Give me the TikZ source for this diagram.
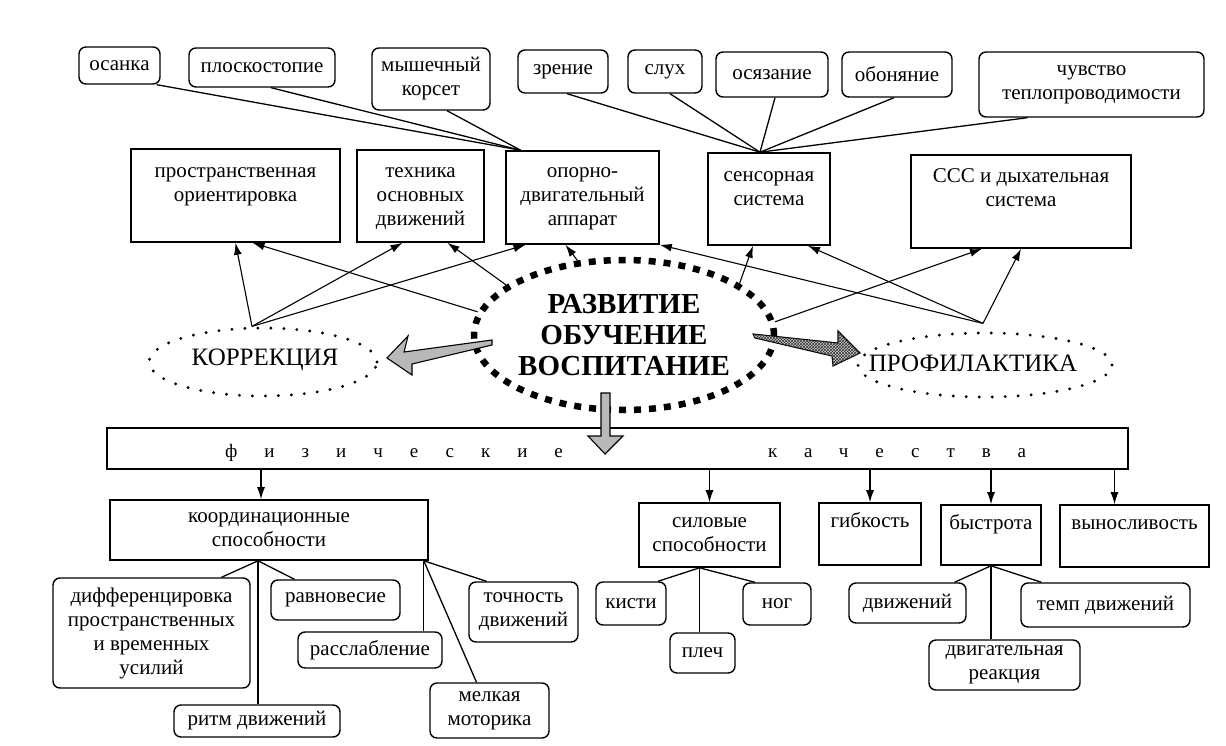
\documentclass[tikz,border=0pt]{standalone}
\usepackage{fontspec}
\setmainfont{Liberation Serif}
\newfontfamily\spacedfont[LetterSpace=142]{Liberation Serif}
\usetikzlibrary{positioning,shapes.geometric,arrows.meta,patterns}
\newcommand\boxfont{\fontsize{21}{24}\selectfont}

\begin{document}
\begin{tikzpicture}[x=1pt,y=-1pt,
  box/.style={draw,line width=1.6pt,inner sep=0pt},
  leaf/.style={draw,rounded corners=7pt,line width=1.4pt,inner sep=0pt,align=center,font=\boxfont},
  txt/.style={inner sep=0pt,align=center,font=\boxfont},
  link/.style={line width=1.3pt},
  arr/.style={line width=1.1pt,-{Latex[length=12pt,width=8pt]}},
  dotring/.style={ellipse,draw,line width=3.2pt,line cap=round,dash pattern=on 0pt off 13pt,inner sep=0pt},
  bigarrow/.style={draw,line width=1.1pt,fill=gray!55,line join=miter}]

\useasboundingbox (0,0) rectangle (1226,746);

\node[leaf,minimum width=81pt,minimum height=37pt] (osanka) at (119.5,65.5) {осанка};
\node[leaf,minimum width=146pt,minimum height=39pt] (ploskost) at (262,67.5) {плоскостопие};
\node[leaf,minimum width=118pt,minimum height=62pt] (korset) at (431,79) {мышечный\\корсет};
\node[leaf,minimum width=90pt,minimum height=43pt] (zrenie) at (563,71.5) {зрение};
\node[leaf,minimum width=74pt,minimum height=43pt] (sluh) at (665,71.5) {слух};
\node[leaf,minimum width=112pt,minimum height=45pt] (osyaz) at (772,74.5) {осязание};
\node[leaf,minimum width=110pt,minimum height=45pt] (obon) at (897,74.5) {обоняние};
\node[leaf,minimum width=225pt,minimum height=65pt] (chuvstvo) at (1091.5,84.5) {чувство\\теплопроводимости};

\node[box,minimum width=209pt,minimum height=93pt] (prostr) at (235.5,195.5) {};
\node[box,minimum width=127pt,minimum height=92pt] (tehnika) at (420.5,196) {};
\node[box,minimum width=153pt,minimum height=93pt] (oporno) at (582.5,197.5) {};
\node[box,minimum width=122pt,minimum height=92pt] (sensor) at (769,199) {};
\node[box,minimum width=220pt,minimum height=93pt] (sss) at (1021,201.5) {};
\node[txt,below=19pt of prostr.north] (prostr-t) {пространственная\\ориентировка};
\node[txt,below=18pt of tehnika.north] (tehnika-t) {техника\\основных\\движений};
\node[txt,below=17pt of oporno.north] (oporno-t) {опорно-\\двигательный\\аппарат};
\node[txt,below=19pt of sensor.north] (sensor-t) {сенсорная\\система};
\node[txt,below=14pt of sss.north] (sss-t) {ССС и дыхательная\\система};

\coordinate (oporno-in) at ([xshift=-62pt]oporno.north);
\coordinate (sensor-in) at ([xshift=-9pt]sensor.north);
\draw[link] ([xshift=-4pt]osanka.south east) -- (oporno-in);
\draw[link] ([xshift=9pt]ploskost.south) -- (oporno-in);
\draw[link] ([xshift=16pt]korset.south) -- (oporno-in);
\draw[link] ([xshift=4pt]zrenie.south) -- (sensor-in);
\draw[link] ([xshift=5pt]sluh.south) -- (sensor-in);
\draw[link] ([xshift=3pt]osyaz.south) -- (sensor-in);
\draw[link] ([xshift=-3pt]obon.south) -- (sensor-in);
\draw[link] ([xshift=-64pt]chuvstvo.south) -- (sensor-in);

\node[ellipse,draw,line width=6.5pt,dash pattern=on 7pt off 8pt,inner sep=0pt,minimum width=300pt,minimum height=150pt,align=center,font=\bfseries\fontsize{29}{31}\selectfont] (core) at (624,335) {РАЗВИТИЕ\\ОБУЧЕНИЕ\\ВОСПИТАНИЕ};
\node[dotring,minimum width=228pt,minimum height=68pt] (korr) at (263,362) {};
\node[inner sep=0pt,font=\fontsize{25}{28}\selectfont] (korr-t) at (265,360) {КОРРЕКЦИЯ};
\node[dotring,minimum width=254pt,minimum height=64pt] (prof) at (985,365) {};
\node[inner sep=0pt,font=\fontsize{25}{28}\selectfont] (prof-t) at (973,363) {ПРОФИЛАКТИКА};

\coordinate (korr-top) at ([xshift=-11pt]korr.north);
\coordinate (prof-top) at ([xshift=-2pt,yshift=8pt]prof.north);
\draw[arr] (korr-top) -- (prostr.south);
\draw[arr] (korr-top) -- ([xshift=-18pt]tehnika.south);
\draw[arr] (korr-top) -- ([xshift=-57pt]oporno.south);
\draw[arr] (core.171) -- ([xshift=17pt]prostr.south);
\draw[arr] (core.157) -- ([xshift=27pt]tehnika.south);
\draw[arr] (core.122) -- ([xshift=-17pt]oporno.south);
\draw[arr] (core.24) -- ([xshift=-16pt]sensor.south);
\draw[arr] (core.5) -- ([xshift=-39pt]sss.south);
\draw[arr] (prof-top) -- (oporno.south east);
\draw[arr] (prof-top) -- ([xshift=39pt]sensor.south);
\draw[arr] (prof-top) -- (sss.south);

\filldraw[bigarrow] (387,358) -- (408,336) -- (404,352) -- (492,340) -- (492,345) -- (412,364) -- (412,375) -- cycle;
\filldraw[bigarrow,fill=gray!40,postaction={pattern=crosshatch,pattern color=black!80}] (860,353) -- (838,331) -- (838,343) -- (753,334) -- (755,338) -- (832,356) -- (833,366) -- cycle;

\node[box,minimum width=1021pt,minimum height=41pt] (band) at (617.5,448.5) {};
\node[inner sep=0pt,anchor=west,font=\spacedfont\fontsize{19}{22}\selectfont] (band-l) at (225,453) {физические};
\node[inner sep=0pt,anchor=west,font=\spacedfont\fontsize{19}{22}\selectfont] (band-r) at (768,453) {качества};
\filldraw[bigarrow] (601,393) -- (610,393) -- (610,436) -- (623,436) -- (605,454) -- (588,436) -- (601,436) -- cycle;

\node[box,minimum width=318pt,minimum height=60pt,align=center,font=\boxfont] (koord) at (269,530) {координационные\\способности};
\node[box,minimum width=141pt,minimum height=64pt,align=center,font=\boxfont] (silov) at (709.5,535) {силовые\\способности};
\node[box,minimum width=102pt,minimum height=62pt] (gibk) at (870,534) {};
\node[box,minimum width=100pt,minimum height=60pt] (bystr) at (991,535) {};
\node[box,minimum width=149pt,minimum height=62pt] (vynos) at (1134.5,536) {};
\node[txt,anchor=base] (gibk-t) at ([yshift=-25pt]gibk.north) {гибкость};
\node[txt,anchor=base] (bystr-t) at ([yshift=-25pt]bystr.north) {быстрота};
\node[txt,anchor=base] (vynos-t) at ([yshift=-25pt]vynos.north) {выносливость};

\draw[arr] ([xshift=-8pt]koord.north |- band.south) -- ([xshift=-8pt]koord.north);
\draw[arr] (silov.north |- band.south) -- (silov.north);
\draw[arr] (gibk.north |- band.south) -- (gibk.north);
\draw[arr] (bystr.north |- band.south) -- (bystr.north);
\draw[arr] ([xshift=-20pt]vynos.north |- band.south) -- ([xshift=-20pt]vynos.north);

\node[leaf,minimum width=197pt,minimum height=110pt] (diff) at (151.5,633) {дифференцировка\\пространственных\\и временных\\усилий};
\node[leaf,minimum width=129pt,minimum height=40pt] (ravn) at (335.5,600) {равновесие};
\node[leaf,minimum width=144pt,minimum height=36pt] (rasl) at (370,650) {расслабление};
\node[leaf,minimum width=109pt,minimum height=60pt] (tochn) at (523.5,612) {точность\\движений};
\node[leaf,minimum width=119pt,minimum height=55pt] (melk) at (489.5,710.5) {мелкая\\моторика};
\node[leaf,minimum width=166pt,minimum height=32pt] (ritm) at (257,721) {ритм движений};
\node[leaf,minimum width=70pt,minimum height=43pt] (kisti) at (631,603.5) {кисти};
\node[leaf,minimum width=65pt,minimum height=40pt] (plech) at (702.5,653) {плеч};
\node[leaf,minimum width=68pt,minimum height=42pt] (nog) at (777,604) {ног};
\node[leaf,minimum width=117pt,minimum height=40pt] (dvizh) at (907.5,603) {движений};
\node[leaf,minimum width=169pt,minimum height=44pt] (temp) at (1105.5,605) {темп движений};
\node[leaf,minimum width=151pt,minimum height=50pt] (reakc) at (1004.5,665) {двигательная\\реакция};

\coordinate (koord-l) at ([xshift=-11pt]koord.south);
\coordinate (koord-r) at ([xshift=-5pt]koord.south east);
\draw[link] (koord-l) -- ([xshift=70pt]diff.north);
\draw[link] (koord-l) -- (koord-l |- ritm.north);
\draw[link] (koord-l) -- ([xshift=-41pt]ravn.north);
\draw[link] (koord-r) -- (koord-r |- rasl.north);
\draw[link] (koord-r) -- ([xshift=-13pt]melk.north);
\draw[link] (koord-r) -- ([xshift=-37pt]tochn.north);

\coordinate (silov-j) at ([xshift=-10pt]silov.south);
\draw[link] (silov-j) -- ([xshift=27pt]kisti.north);
\draw[link] (silov-j) -- (silov-j |- plech.north);
\draw[link] (silov-j) -- ([xshift=-22pt]nog.north);

\draw[link] (bystr.south) -- ([xshift=47pt]dvizh.north);
\draw[link] (bystr.south) -- (bystr.south |- reakc.north);
\draw[link] (bystr.south) -- ([xshift=-64pt]temp.north);

\end{tikzpicture}
\end{document}
